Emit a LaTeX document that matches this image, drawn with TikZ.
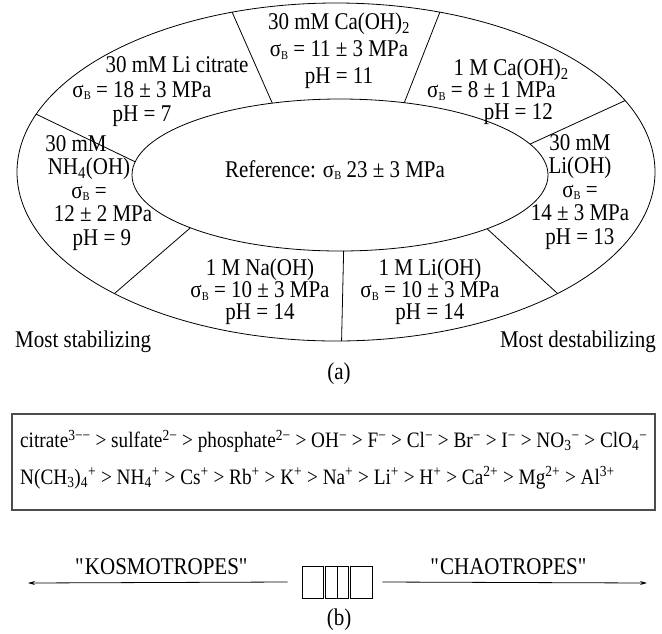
\documentclass[tikz,border=0pt]{standalone}
\usepackage{fontspec}
\setmainfont{Liberation Serif}[FakeStretch=0.875]
\usetikzlibrary{positioning,calc,arrows.meta}
\newcommand{\sigB}{σ\raisebox{-2.5pt}{\fontsize{12}{12}\selectfont B}}

\begin{document}
\begin{tikzpicture}[x=1pt, y=-1pt,
    lbl/.style={inner sep=0pt, align=center, font=\fontsize{24}{#1}\selectfont},
    lbl/.default=23.5,
    ring/.style={line width=0.8pt},
    bar/.style={draw, line width=0.8pt, minimum height=32pt, inner sep=0pt},
    serie/.style={inner sep=0pt, anchor=west, font=\fontsize{22}{24}\selectfont},
    arr/.style={-{Stealth[length=7pt, width=4pt]}, line width=0.8pt}
]
    \useasboundingbox (0,0) rectangle (662,633);

    % Ring (a)
    \draw[ring] (336,172) ellipse [x radius=319pt, y radius=169pt];
    \draw[ring] (340,175) ellipse [x radius=208pt, y radius=76pt];
    \foreach \o/\i in {109/109, 71/72, 25/24, -46/-45, -89/-89, -134/-136, 160/170}
        \draw[ring] ($(336,172)+({319*cos(\o)},{-169*sin(\o)})$) -- ($(340,175)+({208*cos(\i)},{-76*sin(\i)})$);

    % Segments
    \node[lbl] (ref) at (335,170) {Reference: \sigB\ 23 ± 3 MPa};
    \node[lbl=27] (caoh30) at (339,51) {30 mM Ca(OH)\textsubscript{2}\\ \sigB\ = 11 ± 3 MPa\\ pH = 11};
    \node[lbl=22, align=right, anchor=east] (caoh1) at (556,92) {1 M Ca(OH)\textsubscript{2}\hspace*{-13pt}\\ \sigB\ = 8 ± 1 MPa\\ pH = 12\hspace*{3pt}};
    \node[lbl] (lioh30) at (580,192) {30 mM\\ Li(OH)\\ \sigB\ =\\ 14 ± 3 MPa\\ pH = 13};
    \node[lbl=22] (lioh1) at (430,292) {1 M Li(OH)\\ \sigB\ = 10 ± 3 MPa\\ pH = 14};
    \node[lbl=22] (naoh1) at (260,292) {1 M Na(OH)\\ \sigB\ = 10 ± 3 MPa\\ pH = 14};
    \node[lbl] (nh4oh) at (89,193) {30 mM\hspace*{26pt}\\ NH\textsubscript{4}(OH)\hspace*{26pt}\\ \sigB\ =\hspace*{12pt}\\ \hspace*{28pt}12 ± 2 MPa\\ \hspace*{26pt}pH = 9};
    \node[lbl=24.5] (licit) at (142,92) {\hspace*{70pt}30 mM Li citrate\\ \sigB\ = 18 ± 3 MPa\\ pH = 7};

    \node[lbl, anchor=west] (stab) at (15,342) {Most stabilizing};
    \node[lbl, anchor=east] (destab) at (656,342) {Most destabilizing};
    \node[lbl] (capa) at (339,374) {(a)};

    % Hofmeister series (b)
    \draw[line width=1.3pt, black!70] (12,414) rectangle (655,510);
    \node[serie] (anions) at (20,441) {citrate\textsuperscript{3−−} > sulfate\textsuperscript{2−} > phosphate\textsuperscript{2−} > OH\textsuperscript{−} > F\textsuperscript{−} > Cl\textsuperscript{−} > Br\textsuperscript{−} > I\textsuperscript{−} > NO\textsubscript{3}\textsuperscript{−} > ClO\textsubscript{4}\textsuperscript{−}};
    \node[serie] (cations) at (20,478) {N(CH\textsubscript{3})\textsubscript{4}\textsuperscript{+} > NH\textsubscript{4}\textsuperscript{+} > Cs\textsuperscript{+} > Rb\textsuperscript{+} > K\textsuperscript{+} > Na\textsuperscript{+} > Li\textsuperscript{+} > H\textsuperscript{+} > Ca\textsuperscript{2+} > Mg\textsuperscript{2+} > Al\textsuperscript{3+}};

    \node[bar, minimum width=21pt] (b1) at (312.5,582) {};
    \node[bar, minimum width=12pt] (b2) at (331,582) {};
    \node[bar, minimum width=11pt] (b3) at (342.5,582) {};
    \node[bar, minimum width=22pt] (b4) at (361,582) {};
    \coordinate (kos) at (28,583);
    \coordinate (cha) at (647,583);
    \draw[arr] ([xshift=-14pt]b1.west) -- (kos);
    \draw[arr] ([xshift=10pt]b4.east) -- (cha);

    \node[lbl] (koslbl) at (162,567) {\textquotedbl KOSMOTROPES\textquotedbl};
    \node[lbl] (chalbl) at (509,567) {\textquotedbl CHAOTROPES\textquotedbl};
    \node[lbl] (capb) at (339,620) {(b)};
\end{tikzpicture}
\end{document}
